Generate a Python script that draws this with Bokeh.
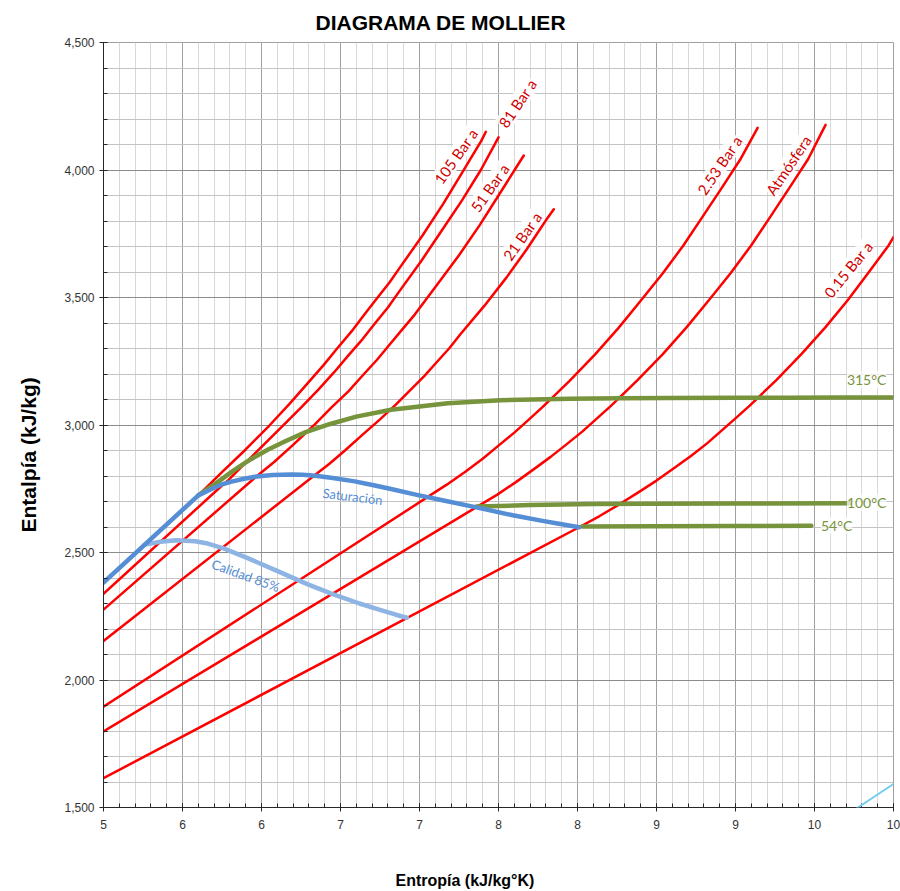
from bokeh.plotting import figure
from bokeh.models import (Range1d, FixedTicker, NumeralTickFormatter, ColumnDataSource,
                          LabelSet, Label, Arrow, Title)
from bokeh.core.properties import value
from bokeh.embed import file_html
from bokeh.resources import INLINE

# ---------------- axes / ticks ----------------
x_ticks = [5.0, 5.5, 6.0, 6.5, 7.0, 7.5, 8.0, 8.5, 9.0, 9.5, 10.0]
x_tick_labels = ["5", "6", "6", "7", "7", "8", "8", "9", "9", "10", "10"]
x_minor = [round(5 + 0.1 * i, 1) for i in range(51)]
y_ticks = [1500, 2000, 2500, 3000, 3500, 4000, 4500]
y_tick_labels = ["1,500", "2,000", "2,500", "3,000", "3,500", "4,000", "4,500"]
y_minor = list(range(1500, 4501, 100))

# ---------------- isobars (entropy kJ/kgK, enthalpy kJ/kg) ----------------
p105_s = [5.60, 5.75, 5.90, 6.05, 6.18, 6.29, 6.39, 6.48, 6.57, 6.65, 6.73, 6.81, 6.88, 7.02, 7.15, 7.27, 7.39, 7.42]
p105_h = [2724, 2815, 2904, 2998, 3085, 3162, 3233, 3301, 3367, 3432, 3496, 3559, 3621, 3744, 3867, 3990, 4113, 4150]
p81_s = [5.00, 5.74, 5.79, 5.97, 6.12, 6.25, 6.36, 6.46, 6.55, 6.64, 6.72, 6.80, 6.87, 7.01, 7.14, 7.27, 7.39, 7.50]
p81_h = [2338, 2757, 2784, 2896, 2988, 3068, 3139, 3207, 3273, 3337, 3400, 3461, 3522, 3642, 3762, 3882, 4002, 4128]
p51_s = [5.00, 5.96, 6.08, 6.20, 6.33, 6.44, 6.55, 6.64, 6.73, 6.81, 6.89, 6.97, 7.11, 7.25, 7.38, 7.50, 7.66]
p51_h = [2276, 2794, 2855, 2922, 2998, 3067, 3132, 3194, 3255, 3315, 3374, 3433, 3549, 3666, 3783, 3900, 4057]
p21_s = [5.00, 6.33, 6.43, 6.53, 6.64, 6.75, 6.85, 6.94, 7.03, 7.11, 7.19, 7.26, 7.41, 7.55, 7.68, 7.80, 7.85]
p21_h = [2153, 2800, 2848, 2901, 2962, 3022, 3080, 3136, 3192, 3247, 3302, 3357, 3467, 3578, 3690, 3803, 3846]
p253_s = [5.00, 7.05, 7.17, 7.29, 7.40, 7.50, 7.60, 7.69, 7.78, 7.95, 8.11, 8.26, 8.40, 8.54, 8.67, 8.79, 8.91, 9.03, 9.14]
p253_h = [1895, 2717, 2765, 2817, 2868, 2919, 2970, 3020, 3071, 3173, 3276, 3381, 3487, 3595, 3704, 3815, 3927, 4041, 4165]
patm_s = [5.00, 7.355, 7.49, 7.61, 7.72, 7.83, 7.93, 8.03, 8.12, 8.21, 8.38, 8.54, 8.69, 8.83, 8.97, 9.10, 9.22, 9.34, 9.46, 9.57]
patm_h = [1798, 2676, 2726, 2776, 2825, 2875, 2924, 2974, 3024, 3074, 3176, 3278, 3383, 3488, 3596, 3705, 3816, 3929, 4043, 4177]
p015_s = [5.00, 8.01, 8.14, 8.26, 8.38, 8.50, 8.61, 8.72, 8.82, 8.91, 9.00, 9.09, 9.26, 9.42, 9.57, 9.71, 9.84, 9.97, 10.00]
p015_h = [1615, 2599, 2643, 2687, 2734, 2782, 2830, 2879, 2928, 2977, 3026, 3076, 3177, 3280, 3384, 3489, 3596, 3705, 3737]

# ---------------- saturation and quality ----------------
sat_s = [5.00, 5.60, 5.68, 5.74, 5.81, 5.89, 5.97, 6.07, 6.19, 6.26, 6.34, 6.44,
         6.59, 6.71, 6.82, 6.99, 7.13, 7.36, 7.59, 7.77, 7.91, 8.01]
sat_h = [2382, 2724, 2748, 2765, 2778, 2789, 2798, 2804, 2806, 2805, 2801, 2793,
         2779, 2764, 2749, 2725, 2707, 2677, 2646, 2625, 2610, 2599]
cal_s = [5.26, 5.36, 5.46, 5.58, 5.66, 5.76, 5.92, 6.08, 6.29, 6.45, 6.62, 6.75, 6.85, 6.92]
cal_h = [2531, 2542, 2548, 2544, 2535, 2516, 2476, 2433, 2376, 2337, 2300, 2275, 2256, 2244]

# ---------------- isotherms ----------------
t315_s = [5.60, 5.72, 5.82, 5.93, 6.04, 6.15, 6.28, 6.43, 6.60, 6.82, 7.18, 7.51,
          7.95, 8.27, 8.59, 9.01, 9.33, 9.65, 10.0]
t315_h = [2724, 2775, 2820, 2865, 2903, 2936, 2972, 3003, 3033, 3060, 3085, 3097,
          3103, 3105, 3106, 3107, 3107, 3108, 3108]
t100_s = [7.36, 7.70, 8.10, 8.45, 9.00, 9.72]
t100_h = [2680, 2686, 2690, 2691, 2692, 2693]
t54_s = [8.03, 8.50, 9.00, 9.48]
t54_h = [2602, 2603, 2604, 2605]

# ---------------- labels ----------------
iso_text = ["105 Bar a", "81 Bar a", "51 Bar a", "21 Bar a", "2.53 Bar a", "Atmósfera", "0.15 Bar a"]
iso_lab_s = [7.23, 7.62, 7.445, 7.65, 8.90, 9.335, 9.714]
iso_lab_h = [4055, 4262, 3931, 3741, 4019, 4019, 3610]
iso_lab_angle = [55, 56, 55, 55, 56, 56, 51]

temp_text = ["315°C", "100°C", "54°C"]
temp_lab_s = [9.83, 9.83, 9.64]
temp_lab_h = [3179, 2696, 2606]

stray_s = [8.98, 10.05]
stray_h = [1173, 1613]

# ---------------- figure ----------------
p = figure(width=900, height=890, x_range=Range1d(5, 10), y_range=Range1d(1500, 4500),
           output_backend="svg", toolbar_location=None,
           min_border_left=103, min_border_right=7, min_border_top=42, min_border_bottom=83)
p.background_fill_color = "white"
p.border_fill_color = "white"
p.outline_line_color = "#A0A0A0"

p.title.text = "DIAGRAMA DE MOLLIER"
p.title.align = "left"
p.title.offset = 212
p.title.text_font = "Liberation Sans"
p.title.text_font_style = "bold"
p.title.text_font_size = "21px"
p.title.text_color = "#000000"
p.title.standoff = 17

# invisible spacers so that the visible axis titles sit where the reference has them
p.xaxis.axis_label = "Entropía (kJ/kg°K)"
p.xaxis.axis_label_text_color = None
p.xaxis.axis_label_text_font_size = "16px"
p.xaxis.axis_label_standoff = 17
p.yaxis.axis_label = "Entalpía (kJ/kg)"
p.yaxis.axis_label_text_color = None
p.yaxis.axis_label_text_font_size = "6px"
p.yaxis.axis_label_standoff = 0

p.add_layout(Title(text="Entropía (kJ/kg°K)", align="left", offset=292, standoff=2,
                   text_font="Liberation Sans", text_font_style="bold",
                   text_font_size="16px", text_color="#000000"), "below")
p.add_layout(Title(text="Entalpía (kJ/kg)", align="left", offset=275, standoff=25,
                   text_font="Liberation Sans", text_font_style="bold",
                   text_font_size="21px", text_color="#000000"), "left")

xt = FixedTicker(ticks=x_ticks, minor_ticks=x_minor)
yt = FixedTicker(ticks=y_ticks, minor_ticks=y_minor)
p.xaxis.ticker = xt
p.yaxis.ticker = yt
p.xgrid.ticker = xt
p.ygrid.ticker = yt
p.xaxis.formatter = NumeralTickFormatter(format="0")
p.yaxis.formatter = NumeralTickFormatter(format="0,0")
p.xaxis.major_label_overrides = dict(zip(x_ticks, x_tick_labels))
p.yaxis.major_label_overrides = dict(zip(y_ticks, y_tick_labels))

p.xgrid.grid_line_color = "#A0A0A0"
p.xgrid.minor_grid_line_color = "#D9D9D9"
p.ygrid.grid_line_color = "#8C8C8C"
p.ygrid.minor_grid_line_color = "#C4C4C4"

for ax in (p.xaxis[0], p.yaxis[0]):
    ax.axis_line_color = "#262626"
    ax.major_tick_line_color = "#262626"
    ax.minor_tick_line_color = "#262626"
    ax.major_tick_in = 4
    ax.major_tick_out = 4
    ax.minor_tick_in = 4
    ax.minor_tick_out = 0
    ax.major_label_text_font = "Liberation Sans"
    ax.major_label_text_font_size = "12px"
    ax.major_label_text_color = "#333333"
p.xaxis.major_label_standoff = 8
p.yaxis.major_label_standoff = 5

RED = "#FF0000"
for s, h in [(p105_s, p105_h), (p81_s, p81_h), (p51_s, p51_h), (p21_s, p21_h),
             (p253_s, p253_h), (patm_s, patm_h), (p015_s, p015_h)]:
    p.line(s, h, line_color=RED, line_width=2.5, line_cap="round", line_join="round")

GREEN = "#77933C"
for s, h in [(t315_s, t315_h), (t100_s, t100_h), (t54_s, t54_h)]:
    p.line(s, h, line_color=GREEN, line_width=4.5, line_cap="round", line_join="round")

p.line(cal_s, cal_h, line_color="#8EB4E3", line_width=4.5, line_cap="round", line_join="round")
p.line(sat_s, sat_h, line_color="#558ED5", line_width=4.5, line_cap="round", line_join="round")

iso_src = ColumnDataSource(dict(s=iso_lab_s, h=iso_lab_h, text=iso_text, angle=iso_lab_angle))
p.add_layout(LabelSet(source=iso_src, x="s", y="h", text="text", angle="angle", angle_units="deg",
                      text_align="center", text_baseline="middle", text_font=value("Lato"),
                      text_font_size="15px", text_color="#D00000",
                      background_fill_color="white", background_fill_alpha=0.85))

temp_src = ColumnDataSource(dict(s=temp_lab_s, h=temp_lab_h, text=temp_text))
p.add_layout(LabelSet(source=temp_src, x="s", y="h", text="text",
                      text_align="center", text_baseline="middle", text_font=value("Lato"),
                      text_font_size="14px", text_color=GREEN,
                      background_fill_color="white", background_fill_alpha=0.7))

p.add_layout(Label(x=6.577, y=2720, text="Saturación", angle=-7, angle_units="deg",
                   text_align="center", text_baseline="middle", text_font="Lato",
                   text_font_size="13px", text_color="#558ED5"))
p.add_layout(Label(x=5.90, y=2410, text="Calidad 85%", angle=-20, angle_units="deg",
                   text_align="center", text_baseline="middle", text_font="Lato",
                   text_font_size="13px", text_color="#558ED5"))

p.add_layout(Arrow(x_start=stray_s[0], y_start=stray_h[0], x_end=stray_s[1], y_end=stray_h[1],
                   end=None, line_color="#75CDF0", line_width=2, level="overlay"))

open("out.html", "w").write(file_html(p, INLINE))
